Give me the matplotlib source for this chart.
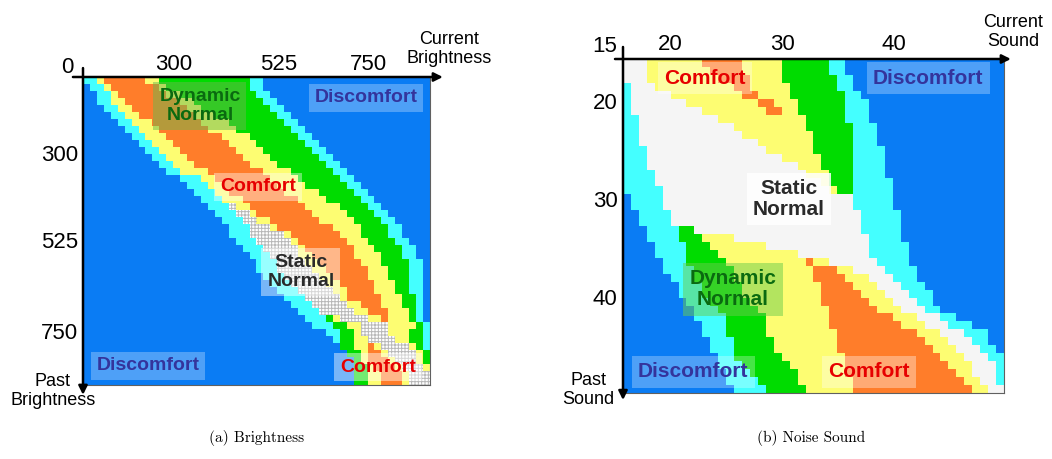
import matplotlib
matplotlib.use("Agg")
import matplotlib.pyplot as plt
import numpy as np
from matplotlib.colors import ListedColormap
from matplotlib.patches import Rectangle

plt.rcParams['font.family'] = ['Liberation Sans', 'DejaVu Sans']
plt.rcParams['hatch.linewidth'] = 0.7

# ---------------- data ----------------
# zone codes: B discomfort (blue), C cyan, G dynamic normal (green),
# Y yellow, O comfort (orange), W static normal (grid), w static normal (white)
zone_codes = ['B', 'C', 'G', 'Y', 'O', 'W', 'w']
zone_colors = ['#0a7cf4', '#44ffff', '#00dc00', '#fdfd72', '#ff7d2a', '#ffffff', '#f5f5f5']

# brightness map: one run-length string per row (past brightness), columns = current brightness
bright_rows = [
    "C2 Y1 O6 Y2 G13 C2 B24",
    "B1 C2 Y1 O7 Y1 G12 C2 B24",
    "B2 C2 Y1 O7 Y2 G11 C2 B23",
    "B2 C2 Y2 O8 Y2 G10 C2 B22",
    "B3 C2 Y2 O8 Y2 G10 C2 B21",
    "B4 C2 Y2 O8 Y3 G9 C2 B20",
    "B5 C2 Y3 O7 Y4 G8 C2 B19",
    "B6 C2 Y3 O7 Y4 G8 C2 B18",
    "B7 C2 Y3 O8 Y4 G7 C2 B17",
    "B8 C2 Y3 O8 Y4 G7 C2 B16",
    "B9 C2 Y3 O8 Y4 G7 C2 B15",
    "B10 C2 Y3 O8 Y4 G7 C2 B14",
    "B11 C2 Y3 O8 Y4 G7 C2 B13",
    "B12 C2 Y4 O8 Y4 G6 C2 B12",
    "B14 C3 Y2 O8 Y4 G6 C2 B11",
    "B15 C3 Y2 O8 Y4 G6 C2 B10",
    "B16 C3 Y2 O8 Y5 G5 C2 B9",
    "B17 C3 Y3 O8 Y4 G5 C2 B8",
    "B18 C3 W1 Y2 O8 Y5 G4 C2 B7",
    "B19 C3 W2 Y1 O8 Y5 G4 C2 B6",
    "B20 C3 W2 Y2 O7 Y5 G4 C2 B5",
    "B21 C3 W3 Y1 O8 Y4 G4 C2 B4",
    "B21 C3 W5 Y1 O7 Y3 G4 C2 B4",
    "B22 C3 W5 Y1 O7 Y3 G4 C2 B3",
    "B23 C3 W5 Y1 O7 Y3 G4 C2 B2",
    "B24 C3 W4 Y2 O6 Y4 G3 C2 B2",
    "B25 C3 W4 Y2 O6 Y3 G4 C2 B1",
    "B25 C3 W5 Y2 O6 Y3 G3 C2 B1",
    "B26 C3 W5 Y2 O5 Y3 G3 C2 B1",
    "B27 C3 W5 Y2 O5 Y3 G2 C2 B1",
    "B28 C3 W5 Y2 O4 Y3 G2 C2 B1",
    "B29 C3 W5 Y1 O5 Y3 G2 C1 B1",
    "B30 C3 W5 Y2 O3 Y3 G2 C1 B1",
    "B31 C3 W5 Y2 O3 Y3 G1 C1 B1",
    "B32 C3 G1 Y1 W4 Y2 O1 Y3 G1 C1 B1",
    "B33 C3 G2 Y2 W4 Y4 G1 C1",
    "B35 C2 G2 Y1 W4 Y3 G2 C1",
    "B36 C1 G2 Y2 W4 Y2 G2 C1",
    "B37 G2 Y2 O1 Y1 W4 Y1 G1 C1",
    "B38 G2 Y1 O2 Y1 W4 Y1 G1",
    "B39 G1 Y1 O3 Y1 W3 Y1 G1",
    "B39 G2 Y1 O3 Y1 W3 Y1",
    "B39 G2 Y2 O3 Y1 W3",
    "B39 G2 Y2 O3 Y1 W3",
]

# noise sound map: one run-length string per row (past sound), columns = current sound
sound_rows = [
    "w3 Y7 O5 Y5 G6 C2 B20",
    "w3 Y8 O4 Y5 G6 C2 B20",
    "w3 Y9 O4 Y4 G7 C2 B19",
    "C1 w3 Y10 O2 Y5 G6 C2 B19",
    "C1 w5 Y9 O2 Y4 G7 C2 B18",
    "C1 w7 Y9 O2 Y3 G6 C3 B17",
    "C1 w9 Y8 O2 Y2 G6 C3 B17",
    "C2 w10 Y11 G5 C3 B17",
    "C2 w12 Y9 G6 C3 B16",
    "C2 w13 Y9 G5 C3 B16",
    "C2 w15 Y7 G5 C3 B16",
    "C3 w15 Y6 G5 C4 B15",
    "C3 w17 Y5 G4 C4 B15",
    "C3 w19 Y3 G4 C4 B15",
    "C4 w19 Y3 G3 C4 B15",
    "C4 w21 Y1 G3 C5 B14",
    "C5 w21 Y1 G2 C5 B14",
    "B1 C4 w24 C5 B14",
    "B1 C4 w24 C5 B14",
    "B2 C4 w24 C5 B13",
    "B2 C4 w24 C5 B13",
    "B3 C4 G2 w21 C5 B13",
    "B3 C4 G3 Y4 w17 C4 B13",
    "B4 C4 G3 Y7 w13 C5 B12",
    "B4 C4 G4 Y10 w9 C5 B12",
    "B5 C3 G5 Y10 O1 Y2 w6 C4 B12",
    "B5 C4 G5 Y10 O3 Y2 w4 C4 B11",
    "B6 C3 G5 Y10 O4 Y3 w3 C3 B11",
    "B7 C3 G5 Y10 O4 Y3 w3 C3 B10",
    "B7 C3 G5 Y10 O5 Y3 w3 C3 B9",
    "B8 C3 G5 Y9 O6 Y3 w3 C2 B9",
    "B9 C3 G5 Y9 O6 Y3 w3 C2 B8",
    "B9 C4 G5 Y8 O8 Y3 w3 C2 B6",
    "B10 C3 G5 Y8 O9 Y3 w3 C3 B4",
    "B10 C3 G5 Y9 O10 Y3 w3 C3 B2",
    "B11 C3 G5 Y8 O11 Y3 w3 C2 B2",
    "B11 C3 G5 Y8 O12 Y3 w3 C2 B1",
    "B12 C2 G6 Y8 O12 Y3 w3 C2",
    "B12 C3 G6 Y7 O13 Y3 w3 C1",
    "B13 C3 G6 Y6 O14 Y2 w3 C1",
    "B13 C4 G5 Y7 O14 Y2 w2 C1",
    "B14 C4 G5 Y6 O15 Y2 w2",
]

bright_tick_labels = ['300', '525', '750']
bright_origin_label = '0'
sound_ticks = [20, 30, 40]
sound_origin_label = '15'
sound_range = (15.75, 49.8)


def decode(rows):
    grid = []
    for row in rows:
        cells = []
        for tok in row.split():
            cells += [zone_codes.index(tok[0])] * int(tok[1:])
        grid.append(cells)
    return np.array(grid)


cmap = ListedColormap(zone_colors)
FW, FH = 1052, 459
fig = plt.figure(figsize=(FW / 100, FH / 100), dpi=100)


def px_axes(x0, y0, x1, y1):
    return fig.add_axes([x0 / FW, 1 - y1 / FH, (x1 - x0) / FW, (y1 - y0) / FH])


def style_axes(ax, left_ext, right_ext, top_ext, bottom_ext):
    for s in ['top', 'left']:
        ax.spines[s].set_visible(False)
    for s in ['right', 'bottom']:
        ax.spines[s].set_color('#606060')
        ax.spines[s].set_linewidth(0.8)
    arrow = dict(arrowstyle='-|>', color='black', lw=1.8, mutation_scale=13,
                 shrinkA=0, shrinkB=0)
    ax.annotate('', xy=(right_ext, 1), xytext=(left_ext, 1), xycoords='axes fraction',
                arrowprops=arrow, annotation_clip=False)
    ax.annotate('', xy=(0, bottom_ext), xytext=(0, top_ext), xycoords='axes fraction',
                arrowprops=arrow, annotation_clip=False)


def zone_label(ax, x, y, text, color, box, size):
    ax.text(x, y, text, transform=ax.transAxes, ha='center', va='center',
            fontsize=size, fontweight='bold', color=color, linespacing=1.15, zorder=5,
            bbox=dict(boxstyle='square,pad=0.3', facecolor=box, edgecolor='none'))


DISC, COMF, DYN, STAT = '#34349c', '#e60000', '#0a6a10', '#2a2a2a'

# ---------------- (a) Brightness ----------------
axL = px_axes(83, 77, 430, 385)
gL = decode(bright_rows)
nrL, ncL = gL.shape
axL.imshow(gL, cmap=cmap, vmin=-0.5, vmax=len(zone_codes) - 0.5,
           interpolation='nearest', aspect='auto', extent=(0, ncL, nrL, 0))
Wi = zone_codes.index('W')
for r in range(nrL):
    row = gL[r]
    c = 0
    while c < ncL:
        if row[c] == Wi:
            c0 = c
            while c < ncL and row[c] == Wi:
                c += 1
            axL.add_patch(Rectangle((c0, r), c - c0, 1, facecolor='none',
                                    edgecolor='#b8b8b8', linewidth=0, hatch='+++++'))
        else:
            c += 1
axL.set_xlim(0, ncL)
axL.set_ylim(nrL, 0)
axL.xaxis.tick_top()
axL.set_xticks([13.1, 28.2, 41.1], bright_tick_labels)
axL.set_yticks([10.9, 23.3, 36.3], bright_tick_labels)
axL.tick_params(axis='x', length=0, pad=1.5, labelsize=16)
axL.tick_params(axis='y', length=0, pad=3.5, labelsize=16)
axL.text(-0.026, 1.03, bright_origin_label, transform=axL.transAxes, ha='right',
         va='center', fontsize=16)
style_axes(axL, -0.029, 1.037, 1.029, -0.032)

zone_label(axL, 0.337, 0.906, 'Dynamic\nNormal', DYN, (0.42, 0.72, 0.30, 0.5), 14)
zone_label(axL, 0.816, 0.932, 'Discomfort', DISC, (1, 1, 1, 0.28), 14)
zone_label(axL, 0.504, 0.643, 'Comfort', COMF, (1, 1, 1, 0.4), 14)
zone_label(axL, 0.628, 0.367, 'Static\nNormal', STAT, (1, 1, 1, 0.45), 14)
zone_label(axL, 0.187, 0.062, 'Discomfort', DISC, (1, 1, 1, 0.28), 14)
zone_label(axL, 0.850, 0.058, 'Comfort', COMF, (1, 1, 1, 0.45), 14)

fig.text(449 / FW, 1 - 49 / FH, 'Current\nBrightness', ha='center', va='center',
         fontsize=13, linespacing=1.2)
fig.text(53 / FW, 1 - 391 / FH, 'Past\nBrightness', ha='center', va='center',
         fontsize=13, linespacing=1.2)
fig.text(257 / FW, 1 - 438 / FH, '(a) Brightness', ha='center', va='center',
         fontsize=11, family='cmr10')

# ---------------- (b) Noise Sound ----------------
axR = px_axes(623, 59, 1004, 393)
gR = decode(sound_rows)
lo, hi = sound_range
axR.imshow(gR, cmap=cmap, vmin=-0.5, vmax=len(zone_codes) - 0.5,
           interpolation='nearest', aspect='auto', extent=(lo, hi, hi, lo))
axR.set_xlim(lo, hi)
axR.set_ylim(hi, lo)
axR.xaxis.tick_top()
axR.set_xticks(sound_ticks, [str(t) for t in sound_ticks])
axR.set_yticks(sound_ticks, [str(t) for t in sound_ticks])
axR.tick_params(axis='x', length=0, pad=3, labelsize=16)
axR.tick_params(axis='y', length=0, pad=4, labelsize=16)
axR.text(-0.016, 1.036, sound_origin_label, transform=axR.transAxes, ha='right',
         va='center', fontsize=16)
style_axes(axR, -0.021, 1.018, 1.036, -0.021)

zone_label(axR, 0.215, 0.943, 'Comfort', COMF, (1, 1, 1, 0.35), 15)
zone_label(axR, 0.801, 0.943, 'Discomfort', DISC, (1, 1, 1, 0.28), 15)
zone_label(axR, 0.436, 0.581, 'Static\nNormal', STAT, (1, 1, 1, 0.85), 15)
zone_label(axR, 0.289, 0.311, 'Dynamic\nNormal', DYN, (0.42, 0.80, 0.30, 0.5), 15)
zone_label(axR, 0.184, 0.063, 'Discomfort', DISC, (1, 1, 1, 0.28), 15)
zone_label(axR, 0.646, 0.063, 'Comfort', COMF, (1, 1, 1, 0.35), 15)

fig.text(1013 / FW, 1 - 32 / FH, 'Current\nSound', ha='center', va='center',
         fontsize=13, linespacing=1.2)
fig.text(588 / FW, 1 - 390 / FH, 'Past\nSound', ha='center', va='center',
         fontsize=13, linespacing=1.2)
fig.text(811 / FW, 1 - 438 / FH, '(b) Noise Sound', ha='center', va='center',
         fontsize=11, family='cmr10')

fig.savefig('out.png', dpi=100, facecolor='white')
